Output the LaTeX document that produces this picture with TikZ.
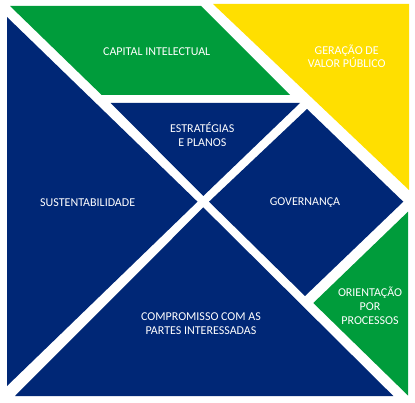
\documentclass[tikz,border=0pt]{standalone}
\usepackage{fontspec}
\setmainfont{Carlito}
\usepackage{xcolor}
\usepackage{tikz}
\definecolor{navy}{HTML}{002776}
\definecolor{flaggreen}{HTML}{009C3B}
\definecolor{flagyellow}{HTML}{FFDF00}
\begin{document}
\begin{tikzpicture}[x=1pt,y=-1pt]
    \useasboundingbox (0,0) rectangle (415,403);
    % pieces
    \fill[flaggreen] (10,6) -- (201,6) -- (290,95) -- (101.7,95) -- cycle;
    \fill[flagyellow] (213,4) -- (409,4) -- (409,190) -- cycle;
    \fill[navy] (7,17) -- (197.5,201.7) -- (7,386) -- cycle;
    \fill[navy] (110.7,103) -- (300,103) -- (203.3,196) -- cycle;
    \fill[navy] (209,201.7) -- (307,109) -- (403.3,201.7) -- (305,296) -- cycle;
    \fill[flaggreen] (408,211.7) -- (313.3,303) -- (408,395.5) -- cycle;
    \fill[navy] (203.3,207.4) -- (393.3,396) -- (15,396) -- cycle;
    % labels
    \begin{scope}[every node/.style={text=white,align=center,inner sep=0pt,font=\fontsize{12}{13.8}\selectfont}]
    \node (capital) at (156.7,51.7) {CAPITAL INTELECTUAL};
    \node (geracao) at (346.7,56.3) {GERAÇÃO DE\\VALOR PÚBLICO};
    \node (estrategias) at (202.3,134.3) {ESTRATÉGIAS\\E PLANOS};
    \node (sustent) at (87.7,202.7) {SUSTENTABILIDADE};
    \node (governanca) at (305,202.3) {GOVERNANÇA};
    \node (orientacao) at (370,305.5) {ORIENTAÇÃO\\POR\\PROCESSOS};
    \node (compromisso) at (201,323.8) {COMPROMISSO COM AS\\PARTES INTERESSADAS};
    \end{scope}
\end{tikzpicture}
\end{document}
